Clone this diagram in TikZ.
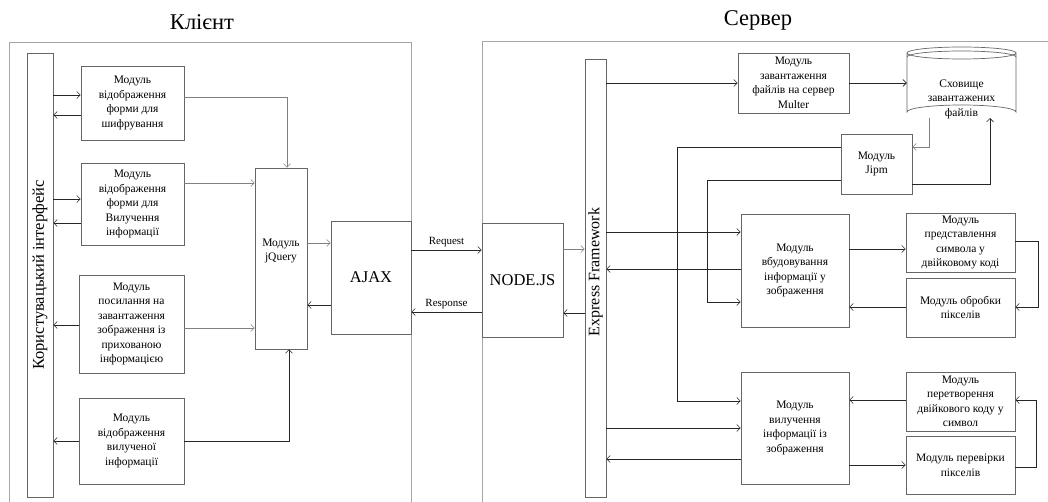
\documentclass[tikz,border=0pt]{standalone}
\usepackage{fontspec}
\setmainfont{Liberation Serif}
\usetikzlibrary{arrows.meta}
\begin{document}
\begin{tikzpicture}[x=1pt,y=-1pt,
  box/.style={draw=black!60,line width=0.7pt,rectangle,inner sep=1pt,align=center,
    font=\fontsize{11.5}{14.5}\selectfont},
  frame/.style={draw=black!35,line width=0.9pt},
  arr/.style={draw=black!85,line width=0.6pt,-{Straight Barb[length=3.5pt,width=7pt]}},
  arrl/.style={draw=black!50,line width=0.6pt,-{Straight Barb[length=3.5pt,width=7pt]}},
  lbl/.style={font=\fontsize{11}{13}\selectfont},
  title/.style={font=\fontsize{22.5}{26}\selectfont}]
\useasboundingbox (0,0) rectangle (1048,502);
% frames
\draw[frame] (9,502) -- (9,42) -- (411,42) -- (411,502);
\draw[frame] (482,502) -- (482,41) -- (1048,41);
\node[title] (tclient) at (202,22) {Клієнт};
\node[title] (tserver) at (758,20) {Сервер};
% client
\node[box,minimum width=26,minimum height=444] (ui) at (40,275) {};
\node[rotate=90,font=\fontsize{16.5}{18}\selectfont] (uit) at (40,275) {Користувацький інтерфейс};
\node[box,minimum width=103,minimum height=74] (b1) at (132.5,103) {Модуль\\відображення\\форми для\\шифрування};
\node[box,minimum width=103,minimum height=82] (b2) at (132.5,204) {Модуль\\відображення\\форми для\\Вилучення\\інформації};
\node[box,minimum width=105,minimum height=98] (b3) at (131.5,324) {Модуль\\посилання на\\завантаження\\зображення із\\прихованою\\інформацією};
\node[box,minimum width=105,minimum height=86] (b4) at (131.5,441) {Модуль\\відображення\\вилученої\\інформації};
\node[box,minimum width=52,minimum height=181] (jq) at (281,258.5) {};
\node[font=\fontsize{11.5}{14.5}\selectfont,align=center] (jqt) at (281,251) {Модуль\\jQuery};
\node[box,minimum width=80,minimum height=113,font=\fontsize{16.5}{18}\selectfont] (ajax) at (371,277.5) {AJAX};
% server
\node[box,minimum width=81,minimum height=114,font=\fontsize{16.5}{18}\selectfont] (nodejs) at (522.5,280) {NODE.JS};
\node[box,minimum width=21,minimum height=438] (exp) at (595.5,278) {};
\node[rotate=90,font=\fontsize{16}{18}\selectfont] (expt) at (595.5,272) {Express Framework};
\node[box,minimum width=111,minimum height=60] (multer) at (793.5,83) {Модуль\\завантаження\\файлів на сервер\\Multer};
% storage cylinder
\node[minimum width=109,minimum height=74,inner sep=0pt] (stor) at (961.5,84) {};
\draw[draw=black!60,line width=0.7pt,fill=white] (907,53) -- (907,112) arc[start angle=180,end angle=360,x radius=54.5,y radius=7] -- (1016,53) arc[start angle=0,end angle=360,x radius=54.5,y radius=6];
\draw[draw=black!60,line width=0.7pt] (907,57) arc[start angle=180,end angle=360,x radius=54.5,y radius=6];
\node[align=center,font=\fontsize{11.5}{14.5}\selectfont] (stort) at (961.5,99) {Сховище\\завантажених\\файлів};
\node[box,minimum width=71,minimum height=60] (jipm) at (876.5,164) {Модуль\\Jipm};
\node[box,minimum width=108,minimum height=113] (embed) at (795,270.5) {Модуль\\вбудовування\\інформації у\\зображення};
\node[box,minimum width=109,minimum height=59] (bin) at (960.5,242.5) {Модуль\\представлення\\символа у\\двійковому коді};
\node[box,minimum width=109,minimum height=59] (pix) at (960.5,307.5) {Модуль обробки\\пікселів};
\node[box,minimum width=108,minimum height=112] (extr) at (795,428) {Модуль\\вилучення\\інформації із\\зображення};
\node[box,minimum width=109,minimum height=59] (conv) at (960.5,401.5) {Модуль\\перетворення\\двійкового коду у\\символ};
\node[box,minimum width=109,minimum height=58] (chk) at (960.5,465) {Модуль перевірки\\пікселів};
% client arrows
\draw[arr] (ui.east |- 0,95) -- (b1.west |- 0,95);
\draw[arr] (b1.west |- 0,115) -- (ui.east |- 0,115);
\draw[arr] (ui.east |- 0,199) -- (b2.west |- 0,199);
\draw[arr] (b2.west |- 0,223) -- (ui.east |- 0,223);
\draw[arr] (b3.west |- 0,325) -- (ui.east |- 0,325);
\draw[arr] (b4.west |- 0,441) -- (ui.east |- 0,441);
\draw[arrl] (b1.east |- 0,97) -| (287,0 |- jq.north);
\draw[arrl] (b2.east |- 0,183) -- (jq.west |- 0,183);
\draw[arrl] (b3.east |- 0,328) -- (jq.west |- 0,328);
\draw[arr] (b4.east |- 0,441) -| (289,0 |- jq.south);
\draw[arrl] (jq.east |- 0,243) -- (ajax.west |- 0,243);
\draw[arr] (ajax.west |- 0,305) -- (jq.east |- 0,305);
\draw[arr] (ajax.east |- 0,250) -- node[lbl,above] {Request} (nodejs.west |- 0,250);
\draw[arr] (nodejs.west |- 0,312) -- node[lbl,above] {Response} (ajax.east |- 0,312);
\draw[arrl] (nodejs.east |- 0,249) -- (exp.west |- 0,249);
\draw[arr] (exp.west |- 0,313) -- (nodejs.east |- 0,313);
% server arrows
\draw[arr] (exp.east |- 0,83) -- (multer.west |- 0,83);
\draw[arr] (multer.east |- 0,83) -- (stor.west |- 0,83);
\draw[arrl] (929,118) |- (jipm.east |- 0,147);
\draw[arr] (jipm.east |- 0,184) -| (990,118);
\draw[arr] (jipm.west |- 0,147) -| (677,401) -- (extr.west |- 0,401);
\draw[arr] (jipm.west |- 0,180) -| (707,302) -- (embed.west |- 0,302);
\draw[arr] (exp.east |- 0,232) -- (embed.west |- 0,232);
\draw[arr] (embed.west |- 0,269) -- (exp.east |- 0,269);
\draw[arr] (embed.east |- 0,249) -- (bin.west |- 0,249);
\draw[arr] (bin.east |- 0,241) -- (1038,241) |- (pix.east |- 0,307);
\draw[arr] (pix.west |- 0,307) -- (embed.east |- 0,307);
\draw[arr] (exp.east |- 0,428) -- (extr.west |- 0,428);
\draw[arr] (extr.west |- 0,459) -- (exp.east |- 0,459);
\draw[arr] (extr.east |- 0,465) -- (chk.west |- 0,465);
\draw[arr] (chk.east |- 0,467) -- (1036,467) |- (conv.east |- 0,400);
\draw[arr] (conv.west |- 0,400) -- (extr.east |- 0,400);
\end{tikzpicture}
\end{document}
